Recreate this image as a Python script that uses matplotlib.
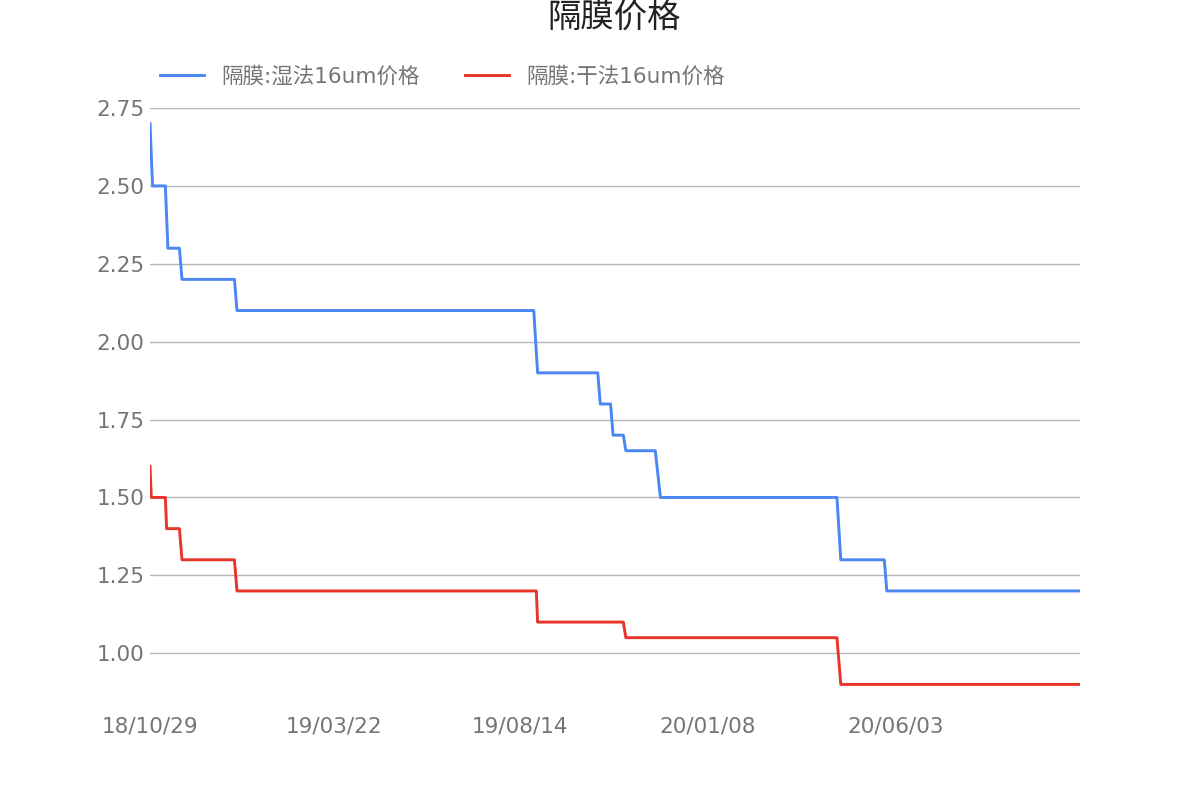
import matplotlib
matplotlib.use("Agg")
import matplotlib.pyplot as plt
import pandas as pd

plt.rcParams['font.family'] = ['DejaVu Sans', 'Noto Sans CJK SC']

# 湿法 (wet process) price
wet_dates = ['2018-10-29', '2018-10-31', '2018-11-10', '2018-11-12', '2018-11-21',
             '2018-11-23', '2019-01-03', '2019-01-05', '2019-08-25', '2019-08-28',
             '2019-10-14', '2019-10-16', '2019-10-24', '2019-10-26', '2019-11-03',
             '2019-11-05', '2019-11-28', '2019-12-02', '2020-04-18', '2020-04-21',
             '2020-05-25', '2020-05-27', '2020-10-25']
wet_prices = [2.70, 2.50, 2.50, 2.30, 2.30,
              2.20, 2.20, 2.10, 2.10, 1.90,
              1.90, 1.80, 1.80, 1.70, 1.70,
              1.65, 1.65, 1.50, 1.50, 1.30,
              1.30, 1.20, 1.20]

# 干法 (dry process) price
dry_dates = ['2018-10-29', '2018-10-30', '2018-11-10', '2018-11-11', '2018-11-21',
             '2018-11-23', '2019-01-03', '2019-01-05', '2019-08-27', '2019-08-28',
             '2019-11-03', '2019-11-05', '2020-04-18', '2020-04-19', '2020-04-21',
             '2020-10-25']
dry_prices = [1.60, 1.50, 1.50, 1.40, 1.40,
              1.30, 1.30, 1.20, 1.20, 1.10,
              1.10, 1.05, 1.05, 1.00, 0.90,
              0.90]

tick_dates = ['2018-10-29', '2019-03-22', '2019-08-14', '2020-01-08', '2020-06-03']
tick_labels = ['18/10/29', '19/03/22', '19/08/14', '20/01/08', '20/06/03']
y_ticks = [1.00, 1.25, 1.50, 1.75, 2.00, 2.25, 2.50, 2.75]

wet_x = pd.to_datetime(wet_dates)
dry_x = pd.to_datetime(dry_dates)

grey = '#757575'

fig = plt.figure(figsize=(12, 8), dpi=100)
ax = fig.add_axes([0.125, 0.125, 0.775, 0.74])

ax.plot(wet_x, wet_prices, color='#4a86f4', lw=2.1, label='隔膜:湿法16um价格')
ax.plot(dry_x, dry_prices, color='#e8352a', lw=2.1, label='隔膜:干法16um价格')

ax.set_xlim(pd.Timestamp('2018-10-29'), pd.Timestamp('2020-10-25'))
ax.set_ylim(0.85, 2.75)
ax.set_xticks(pd.to_datetime(tick_dates))
ax.set_xticklabels(tick_labels)
ax.set_yticks(y_ticks)
ax.set_yticklabels(['%.2f' % v for v in y_ticks])

ax.grid(axis='y', color='#b7b7b7', lw=1)
ax.set_axisbelow(True)
for s in ax.spines.values():
    s.set_visible(False)
ax.tick_params(axis='both', length=0, labelsize=15.5, labelcolor=grey)
ax.tick_params(axis='x', pad=12)
ax.tick_params(axis='y', pad=4)

fig.text(0.512, 0.979, '隔膜价格', ha='center', va='center', fontsize=24, color='#222222')

ax.legend(loc='center left', bbox_to_anchor=(160 / 1200, 1 - 76 / 800),
          bbox_transform=fig.transFigure, ncol=2, frameon=False, fontsize=15.5,
          labelcolor=grey, borderpad=0, borderaxespad=0, handlelength=2.05,
          handletextpad=0.8, columnspacing=2.1)

fig.savefig('out.png', dpi=100)
